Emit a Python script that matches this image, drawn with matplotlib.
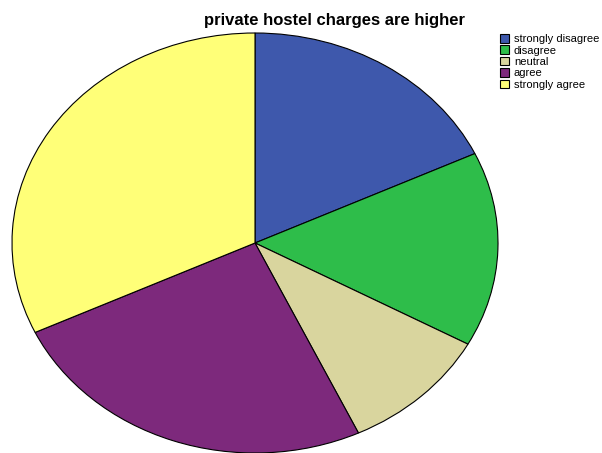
import matplotlib
matplotlib.use("Agg")
import matplotlib.pyplot as plt

# response counts per answer
labels = ["strongly disagree", "disagree", "neutral", "agree", "strongly agree"]
counts = [18, 15, 10, 25, 32]
colors = ["#3E58AC", "#2EBD4A", "#D9D59E", "#7D297C", "#FFFF78"]

plt.rcParams["font.family"] = ["Liberation Sans", "DejaVu Sans"]

W, H = 602, 453
fig = plt.figure(figsize=(W / 100, H / 100), dpi=100)

# pie drawn into a stretched axes so it comes out as an ellipse
ax = fig.add_axes([12 / W, 0, 486 / W, 420 / H])
wedges, _ = ax.pie(counts, colors=colors, startangle=90, counterclock=False,
                   wedgeprops=dict(edgecolor="black", linewidth=0.8))
ax.set_aspect("auto")
ax.set_xlim(-1, 1)
ax.set_ylim(-1, 1)
ax.axis("off")

fig.text(334 / W, 1 - 20 / H, "private hostel charges are higher",
         ha="center", va="center", fontsize=12, fontweight="bold")

fig.legend(wedges, labels, loc="upper left", bbox_to_anchor=(500 / W, 1 - 34 / H),
           frameon=False, fontsize=8, handlelength=0.8, handleheight=0.8,
           handletextpad=0.45, labelspacing=0.12, borderpad=0, borderaxespad=0)

fig.savefig("out.png", dpi=100)
